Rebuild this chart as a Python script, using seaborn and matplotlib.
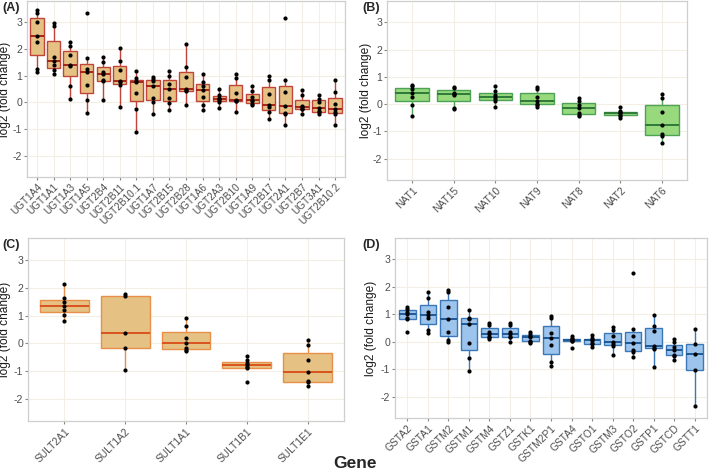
import pandas as pd
import numpy as np
import seaborn as sns
import matplotlib.pyplot as plt

# (A) UGT genes
ugt_genes = ['UGT1A4', 'UGT1A1', 'UGT1A3', 'UGT1A5', 'UGT2B4', 'UGT2B11', 'UGT2B10.1',
             'UGT1A7', 'UGT2B15', 'UGT2B28', 'UGT1A6', 'UGT2A3', 'UGT2B10', 'UGT1A9',
             'UGT2B17', 'UGT2A1', 'UGT2B7', 'UGT3A1', 'UGT2B10.2']
ugt_values = [
    [1.14, 1.26, 2.24, 2.48, 2.98, 3.35, 3.45],
    [1.05, 1.20, 1.39, 1.54, 1.70, 2.85, 2.95],
    [0.14, 0.63, 1.37, 1.39, 1.75, 2.12, 2.26],
    [-0.40, 0.08, 0.64, 1.15, 1.26, 1.64, 3.32],
    [0.10, 0.78, 0.83, 1.07, 1.14, 1.51, 1.70],
    [-0.17, 0.64, 0.76, 0.79, 1.20, 1.54, 2.01],
    [-1.09, -0.25, 0.35, 0.75, 0.78, 0.92, 1.16],
    [-0.43, 0.00, 0.15, 0.60, 0.80, 0.86, 0.95],
    [-0.28, -0.03, 0.17, 0.51, 0.68, 0.97, 1.16],
    [-0.11, 0.42, 0.45, 0.51, 0.95, 1.33, 2.16],
    [-0.28, -0.11, 0.20, 0.45, 0.61, 0.76, 1.05],
    [-0.20, 0.02, 0.08, 0.11, 0.18, 0.29, 0.51],
    [-0.36, 0.04, 0.06, 0.10, 0.35, 0.92, 1.05],
    [-0.11, -0.06, 0.05, 0.10, 0.20, 0.43, 0.61],
    [-0.61, -0.36, -0.18, -0.09, 0.30, 0.83, 0.97],
    [-0.83, -0.42, -0.38, -0.12, 0.38, 0.85, 3.16],
    [-0.45, -0.25, -0.23, -0.17, -0.14, 0.29, 0.45],
    [-0.43, -0.36, -0.32, -0.20, 0.02, 0.13, 0.26],
    [-0.83, -0.42, -0.37, -0.24, -0.05, 0.39, 0.85],
]

# (B) NAT genes
nat_genes = ['NAT1', 'NAT15', 'NAT10', 'NAT9', 'NAT8', 'NAT2', 'NAT6']
nat_values = [
    [-0.44, -0.03, 0.26, 0.42, 0.56, 0.65, 0.71],
    [-0.18, -0.14, 0.34, 0.37, 0.42, 0.60, 0.62],
    [-0.11, 0.10, 0.20, 0.28, 0.34, 0.47, 0.65],
    [-0.11, -0.03, 0.01, 0.13, 0.28, 0.56, 0.62],
    [-0.45, -0.38, -0.32, -0.13, -0.02, 0.13, 0.22],
    [-0.50, -0.44, -0.38, -0.33, -0.30, -0.25, -0.12],
    [-1.42, -1.15, -1.09, -0.76, -0.27, 0.22, 0.38],
]

# (C) SULT genes
sult_genes = ['SULT2A1', 'SULT1A2', 'SULT1A1', 'SULT1B1', 'SULT1E1']
sult_values = [
    [0.80, 1.01, 1.21, 1.34, 1.50, 1.64, 2.12],
    [-0.95, -0.16, 0.37, 1.69, 1.76],
    [-0.26, -0.23, -0.17, 0.02, 0.19, 0.61, 0.92],
    [-1.38, -0.88, -0.85, -0.79, -0.70, -0.60, -0.46],
    [-1.52, -1.39, -1.34, -1.03, -0.59, -0.07, 0.12],
]

# (D) GST genes
gst_genes = ['GSTA2', 'GSTA1', 'GSTM2', 'GSTM1', 'GSTM4', 'GSTZ1', 'GSTK1', 'GSTM2P1',
             'GSTA4', 'GSTO1', 'GSTM3', 'GSTO2', 'GSTP1', 'GSTCD', 'GSTT1']
gst_values = [
    [0.37, 0.83, 0.86, 1.00, 1.10, 1.20, 1.27],
    [0.32, 0.42, 0.86, 0.97, 1.10, 1.60, 1.82],
    [0.00, 0.06, 0.37, 0.81, 1.25, 1.80, 1.88],
    [-1.05, -0.59, -0.04, 0.66, 0.82, 0.88, 1.16],
    [0.10, 0.16, 0.18, 0.28, 0.37, 0.60, 0.70],
    [0.00, 0.17, 0.19, 0.27, 0.36, 0.61, 0.70],
    [-0.04, 0.00, 0.04, 0.18, 0.22, 0.27, 0.35],
    [-0.87, -0.75, -0.13, 0.15, 0.31, 0.85, 0.92],
    [-0.23, 0.01, 0.03, 0.07, 0.09, 0.13, 0.21],
    [-0.20, -0.10, -0.04, 0.05, 0.08, 0.12, 0.23],
    [-0.49, -0.14, -0.10, 0.00, 0.20, 0.42, 0.54],
    [-0.56, -0.38, -0.30, -0.04, 0.20, 0.48, 2.50],
    [-0.92, -0.26, -0.22, -0.16, 0.40, 0.58, 0.97],
    [-0.67, -0.53, -0.47, -0.31, -0.20, -0.02, 0.09],
    [-2.35, -1.02, -0.43, -0.10, 0.45],
]

y_ticks = [-2, -1, 0, 1, 2, 3]


def to_frame(genes, values):
    rows = [(g, v) for g, vals in zip(genes, values) for v in vals]
    return pd.DataFrame(rows, columns=['gene', 'value'])


sns.set_style('white')
plt.rcParams['font.family'] = ['Liberation Sans', 'DejaVu Sans']

W, H = 709, 472
fig = plt.figure(figsize=(W / 100, H / 100), dpi=100)


def px_axes(x0, y0, x1, y1):
    return fig.add_axes([x0 / W, 1 - y1 / H, (x1 - x0) / W, (y1 - y0) / H])


# label, genes, values, fill, edge, median, axes box (px), xtick size, ylabel right edge (px), tag x
panels = [
    ('(A)', ugt_genes, ugt_values, '#E5C283', '#C0443A', '#A8251B', (27, 1, 345, 177), 7.2, 11, 2),
    ('(B)', nat_genes, nat_values, '#97D97C', '#4DA255', '#2F7A3A', (387, 1, 687, 180), 7.4, 372, 362),
    ('(C)', sult_genes, sult_values, '#E5C283', '#E8904A', '#D9531E', (28, 238, 344, 421), 7.4, 11, 2),
    ('(D)', gst_genes, gst_values, '#9DC4EC', '#3C78B8', '#1F5A96', (395, 238, 707, 418), 7.4, 377, 362),
]

for label, genes, values, fill, edge, med, box, fs, ylab_x, tag_x in panels:
    ax = px_axes(*box)
    df = to_frame(genes, values)
    sns.boxplot(data=df, x='gene', y='value', order=genes, ax=ax, width=0.8,
                showfliers=False, linewidth=1.0,
                boxprops=dict(facecolor=fill, edgecolor=edge),
                whiskerprops=dict(color=edge), capprops=dict(color=edge, linewidth=0),
                medianprops=dict(color=med, linewidth=1.4))
    sns.stripplot(data=df, x='gene', y='value', order=genes, ax=ax, jitter=False,
                  color='black', size=3.0)
    ax.set_ylim(-2.78, 3.78)
    ax.set_yticks(y_ticks)
    ax.set_yticklabels([str(t) for t in y_ticks])
    ax.set_xlim(-0.6, len(genes) - 0.4)
    ax.grid(True, color='#F3EFE4', linewidth=0.8)
    ax.set_axisbelow(True)
    for s in ax.spines.values():
        s.set_color('#CFCFCF')
        s.set_linewidth(0.9)
    ax.tick_params(axis='both', length=2.2, color='#888888', labelcolor='#4D4D4D',
                   labelsize=fs, pad=1.5, left=True, bottom=True)
    ax.tick_params(axis='y', labelsize=7.6, pad=1.2)
    plt.setp(ax.get_xticklabels(), rotation=45, ha='right', rotation_mode='anchor')
    ax.set_xlabel('')
    ax.set_ylabel('log2 (fold change)', fontsize=8.6, color='#1A1A1A')
    ax.yaxis.set_label_coords((ylab_x - box[0]) / (box[2] - box[0]), 0.5)
    fig.text(tag_x / W, 1 - (box[1] + 7) / H, label, fontsize=9, fontweight='bold', va='center')

fig.text(355 / W, 1 - 463 / H, 'Gene', fontsize=12.5, fontweight='bold', ha='center', va='center')

fig.savefig('out.png', dpi=100)
